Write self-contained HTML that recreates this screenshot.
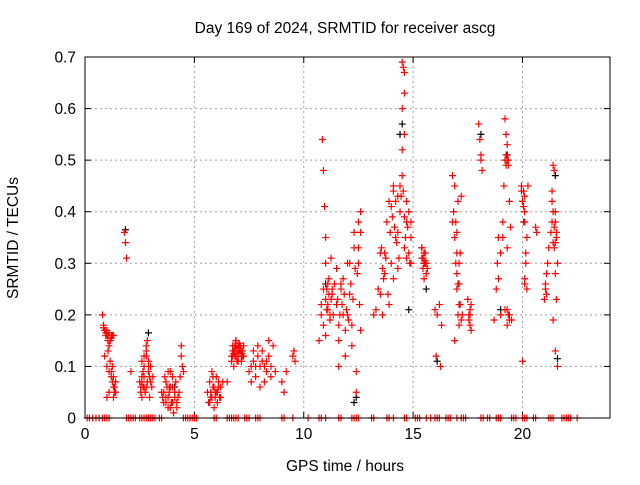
<!DOCTYPE html>
<html><head><meta charset="utf-8"><style>
body{margin:0;background:#fff}
svg text{font-family:"Liberation Sans",sans-serif;font-size:15.5px;fill:#000}
</style></head><body>
<svg id="chart" width="640" height="480" xmlns="http://www.w3.org/2000/svg">
<rect width="640" height="480" fill="#fff"/>
<text x="345" y="33" text-anchor="middle">Day 169 of 2024, SRMTID for receiver ascg</text>
<text x="345" y="471" text-anchor="middle">GPS time / hours</text>
<text transform="translate(18,238) rotate(-90)" text-anchor="middle">SRMTID / TECUs</text>
<g id="grid"></g><g id="ticks"></g><g id="marks"></g>
<rect x="85" y="57" width="525" height="361" fill="none" stroke="#000" stroke-width="1"/>
</svg>
<script>
const xTicks=[0,5,10,15,20];
const yTicks=[0,0.1,0.2,0.3,0.4,0.5,0.6,0.7];
const yTickLabels=["0","0.1","0.2","0.3","0.4","0.5","0.6","0.7"];
const redT=[0.8,0.85,0.9,0.95,1.0,1.05,1.1,1.15,1.2,0.9,1.0,1.1,1.2,1.25,1.3,1.35,1.4,1.0,1.1,1.2,1.3,1.8,1.85,1.9,2.1,
2.5,2.55,2.6,2.65,2.7,2.75,2.8,2.85,2.9,2.95,3.0,2.6,2.7,2.8,2.9,3.0,
3.5,3.6,3.65,3.7,3.75,3.8,3.85,3.9,3.95,4.0,4.05,4.1,4.2,4.3,4.35,4.4,4.4,4.45,4.5,
5.6,5.65,5.7,5.75,5.8,5.85,5.9,5.95,6.0,6.1,6.2,6.3,6.5,
6.7,6.75,6.8,6.85,6.9,6.95,7.0,7.05,7.1,7.15,7.2,7.25,6.8,6.9,7.0,7.1,
7.5,7.6,7.7,7.8,7.9,8.0,8.1,8.2,8.3,8.4,8.5,8.0,8.2,8.4,8.7,9.0,9.1,9.2,9.5,9.55,9.6,
10.7,10.8,10.85,10.9,10.95,11.0,11.0,11.05,11.1,11.15,11.2,11.25,11.3,10.9,11.0,11.1,
11.5,11.6,11.7,11.8,11.9,12.0,12.1,12.2,12.3,12.35,12.4,12.5,12.55,12.6,11.6,11.8,12.0,12.2,12.4,12.5,12.6,
13.3,13.4,13.5,13.6,13.7,13.8,13.9,14.0,14.1,14.2,14.3,14.4,14.5,14.6,14.7,14.8,14.9,13.9,14.1,14.3,14.5,14.5,14.55,14.6,14.6,14.5,14.6,14.7,14.9,
15.4,15.45,15.5,15.55,15.6,15.5,15.4,15.5,
16.0,16.05,16.1,16.2,16.25,16.3,
16.8,16.85,16.9,16.95,17.0,17.05,17.1,17.15,17.2,16.9,17.0,17.1,16.95,17.05,
17.5,17.55,17.6,17.65,17.6,
18.0,18.05,18.1,18.15,18.1,
18.7,18.8,18.85,18.9,19.0,19.1,19.15,19.2,19.25,19.3,19.35,19.4,19.45,19.5,19.3,19.4,19.2,19.3,
19.95,20.0,20.05,20.1,20.15,20.2,20.25,20.0,20.1,20.2,20.1,20.6,20.65,
21.0,21.05,21.1,21.15,21.2,21.05,21.1,21.35,21.4,21.45,21.5,21.55,21.6,21.4,21.5,21.55,21.6,21.5];
const redV=[0.2,0.18,0.17,0.16,0.16,0.15,0.14,0.15,0.16,0.12,0.1,0.09,0.08,0.07,0.06,0.05,0.07,0.04,0.05,0.09,0.08,0.36,0.34,0.31,0.09,
0.07,0.05,0.08,0.06,0.1,0.05,0.12,0.15,0.11,0.08,0.1,0.04,0.06,0.13,0.09,0.07,
0.05,0.03,0.08,0.04,0.06,0.02,0.05,0.09,0.03,0.06,0.01,0.04,0.03,0.05,0.08,0.14,0.12,0.1,0.09,
0.05,0.03,0.07,0.04,0.09,0.06,0.02,0.05,0.08,0.06,0.04,0.07,0.07,
0.11,0.12,0.13,0.14,0.15,0.13,0.12,0.14,0.13,0.11,0.12,0.14,0.1,0.12,0.11,0.13,
0.09,0.07,0.11,0.08,0.12,0.1,0.13,0.07,0.09,0.12,0.08,0.06,0.1,0.15,0.09,0.07,0.05,0.09,0.12,0.13,0.11,
0.15,0.2,0.54,0.48,0.41,0.35,0.3,0.25,0.22,0.27,0.2,0.31,0.24,0.18,0.16,0.21,
0.22,0.15,0.25,0.2,0.12,0.3,0.24,0.18,0.36,0.29,0.05,0.33,0.22,0.4,0.1,0.27,0.2,0.14,0.09,0.38,0.17,
0.21,0.25,0.32,0.2,0.28,0.38,0.42,0.3,0.45,0.35,0.29,0.4,0.47,0.33,0.38,0.4,0.3,0.22,0.27,0.36,0.52,0.69,0.68,0.67,0.63,0.6,0.55,0.42,0.35,
0.31,0.29,0.3,0.32,0.28,0.3,0.33,0.27,
0.21,0.12,0.2,0.22,0.1,0.18,
0.47,0.4,0.35,0.3,0.25,0.2,0.18,0.32,0.43,0.15,0.28,0.22,0.38,0.26,
0.23,0.2,0.18,0.17,0.21,
0.57,0.54,0.51,0.48,0.5,
0.19,0.25,0.3,0.35,0.2,0.38,0.45,0.58,0.55,0.5,0.49,0.42,0.37,0.19,0.18,0.2,0.21,0.33,
0.45,0.42,0.44,0.38,0.3,0.25,0.45,0.11,0.4,0.35,0.27,0.37,0.36,
0.23,0.25,0.28,0.3,0.33,0.26,0.24,0.44,0.49,0.48,0.4,0.35,0.3,0.19,0.13,0.23,0.1,0.28];
const extraT=[0.85,0.9,0.95,1.0,1.05,1.1,1.15,1.2,1.25,1.3,1.05,1.15,1.25,1.35,1.4,1.3,
2.55,2.6,2.65,2.7,2.75,2.8,2.85,2.9,2.6,2.7,2.8,2.95,3.05,3.1,
3.55,3.6,3.7,3.8,3.85,3.9,4.0,4.1,4.15,4.2,4.25,3.7,3.8,3.9,4.0,
5.7,5.75,5.8,5.9,6.0,6.05,6.1,6.15,6.2,5.85,5.95,6.05,
6.7,6.75,6.8,6.85,6.9,6.95,7.0,7.05,7.1,7.15,7.2,6.75,6.85,6.95,7.05,7.15,7.25,6.9,7.0,7.1,
7.6,7.7,7.8,7.9,8.1,8.3,8.5,8.6,
10.8,10.9,11.0,11.05,11.1,11.15,11.2,11.25,11.3,11.35,11.4,11.5,11.55,11.6,11.65,11.7,11.75,11.85,11.9,11.95,12.05,12.1,12.15,12.25,12.3,12.45,12.5,12.6,
13.2,13.5,13.55,13.6,13.65,13.7,13.75,13.85,13.95,14.0,14.05,14.1,14.15,14.2,14.25,14.3,14.35,14.4,14.45,14.55,14.6,14.65,14.7,14.75,14.8,14.85,14.9,
15.45,15.5,15.55,15.6,15.65,15.5,15.55,
16.8,16.9,17.0,17.05,17.1,17.15,17.2,17.25,17.0,17.1,17.6,17.65,17.55,
19.2,19.25,19.3,19.35,19.4,19.3,19.25,19.35,18.9,19.0,19.1,
19.95,20.0,20.05,20.1,20.15,20.05,20.1,
21.3,21.35,21.4,21.45,21.5,21.55,21.4,21.45,21.5,21.35];
const extraV=[0.175,0.17,0.165,0.17,0.16,0.165,0.15,0.155,0.16,0.16,0.13,0.11,0.1,0.06,0.05,0.04,
0.06,0.07,0.09,0.08,0.05,0.06,0.07,0.1,0.11,0.12,0.14,0.04,0.06,0.08,
0.04,0.05,0.03,0.04,0.06,0.02,0.03,0.05,0.07,0.02,0.04,0.07,0.09,0.06,0.08,
0.03,0.05,0.04,0.06,0.05,0.03,0.07,0.04,0.06,0.08,0.04,0.05,
0.12,0.13,0.125,0.13,0.14,0.135,0.125,0.13,0.14,0.12,0.13,0.14,0.12,0.11,0.145,0.125,0.12,0.12,0.14,0.135,
0.1,0.13,0.1,0.14,0.11,0.11,0.1,0.14,
0.22,0.25,0.23,0.21,0.26,0.24,0.19,0.23,0.25,0.2,0.26,0.29,0.23,0.18,0.2,0.26,0.22,0.24,0.17,0.21,0.19,0.3,0.26,0.23,0.33,0.28,0.3,0.36,
0.2,0.24,0.33,0.29,0.27,0.32,0.31,0.24,0.36,0.41,0.39,0.44,0.37,0.42,0.34,0.43,0.31,0.45,0.43,0.44,0.39,0.35,0.31,0.37,0.32,0.3,0.38,
0.31,0.3,0.305,0.3,0.29,0.32,0.3,
0.38,0.45,0.36,0.42,0.3,0.22,0.19,0.2,0.32,0.26,0.2,0.22,0.19,
0.5,0.51,0.53,0.2,0.19,0.21,0.49,0.5,0.27,0.32,0.35,
0.44,0.42,0.41,0.43,0.32,0.38,0.26,
0.36,0.38,0.34,0.37,0.38,0.36,0.4,0.33,0.34,0.42];
const blackT=[1.85,2.9,11.0,12.3,12.4,14.4,14.5,14.8,15.4,15.6,16.1,18.1,19.0,19.3,21.5,21.6,4.1,6.9];
const blackV=[0.365,0.165,0.26,0.03,0.04,0.55,0.57,0.21,0.33,0.25,0.11,0.55,0.21,0.51,0.47,0.115,0.06,0.15];
const zeroT=[0.1,0.2,0.35,0.5,0.65,0.8,0.9,1.0,1.1,1.9,2.0,2.1,2.2,2.3,2.5,2.6,2.7,2.8,2.9,3.0,3.1,3.2,3.4,3.5,4.5,4.6,4.7,4.8,4.9,5.0,5.1,5.9,6.0,6.5,6.6,6.7,6.8,6.9,7.0,7.3,7.4,7.5,7.8,7.9,8.0,9.0,9.1,9.5,10.2,10.7,10.8,11.0,11.6,11.7,12.2,12.3,12.4,12.5,13.1,13.2,13.8,13.9,14.1,14.6,14.7,15.1,15.2,15.3,15.6,15.8,16.0,16.1,16.2,16.5,16.6,16.7,17.0,17.2,17.3,17.4,18.1,18.2,18.4,18.5,18.8,18.9,19.0,19.5,19.6,19.7,20.0,20.1,20.2,20.5,20.6,21.2,21.3,21.4,21.8,21.9,22.0,22.1,22.2,22.5];
const NS="http://www.w3.org/2000/svg";
const X0=85,X1=610,Y0=418,Y1=57,XMAX=24,YMAX=0.7;
function xs(t){return X0+(X1-X0)*t/XMAX;}
function ys(v){return Y0-(Y0-Y1)*v/YMAX;}
function mk(tag,attrs,parent){const e=document.createElementNS(NS,tag);for(const k in attrs)e.setAttribute(k,attrs[k]);parent.appendChild(e);return e;}
const grid=document.getElementById('grid'),ticks=document.getElementById('ticks'),marks=document.getElementById('marks');
xTicks.forEach(t=>{const x=xs(t);
 if(t>0){const g=mk('line',{x1:x,x2:x,y1:Y0,y2:Y1,stroke:'#a0a0a0','stroke-dasharray':'2,3'},grid);
 
 }
 const l=mk('text',{x:x,y:Y0+21,'text-anchor':'middle'},ticks);l.textContent=t;
 
 
 mk('line',{x1:x,x2:x,y1:Y0,y2:Y0-6,stroke:'#000'},ticks);mk('line',{x1:x,x2:x,y1:Y1,y2:Y1+6,stroke:'#000'},ticks);});
yTicks.forEach((v,i)=>{const y=ys(v);
 if(v>0&&v<YMAX){const g=mk('line',{x1:X0,x2:X1,y1:y,y2:y,stroke:'#a0a0a0','stroke-dasharray':'2,3'},grid);
 
 }
 const l=mk('text',{x:X0-9,y:y+5.5,'text-anchor':'end'},ticks);l.textContent=yTickLabels[i];
 
 
 mk('line',{x1:X0,x2:X0+6,y1:y,y2:y,stroke:'#000'},ticks);mk('line',{x1:X1,x2:X1-6,y1:y,y2:y,stroke:'#000'},ticks);});
function plus(t,v,col,name){const x=xs(t),y=ys(v);
 const p=mk('path',{d:`M${x-3.5},${y}h7M${x},${y-3.5}v7`,stroke:col,'stroke-width':1.2,fill:'none'},marks);
 
 }
blackT.forEach((t,i)=>plus(t,blackV[i],'#000','black-point'));
redT.forEach((t,i)=>plus(t,redV[i],'#f00','red-point'));
extraT.forEach((t,i)=>plus(t,extraV[i],'#f00','red-point'));
zeroT.forEach(t=>plus(t,0,'#f00','zero-point'));
</script>
</body></html>
